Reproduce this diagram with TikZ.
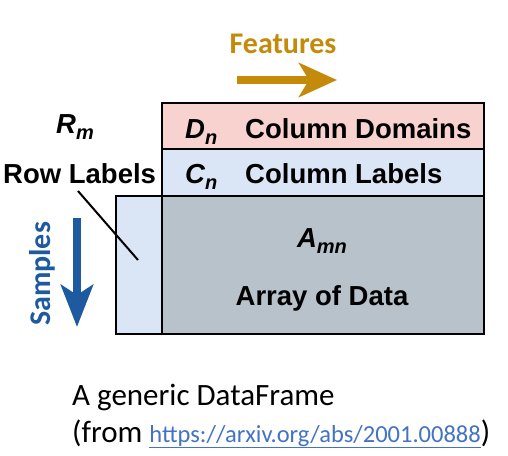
\documentclass[tikz,border=0pt]{standalone}
\usepackage{fontspec}
\setmainfont{Carlito}
\newfontfamily\hv{Liberation Sans}
\newfontfamily\calib{Carlito}
\usetikzlibrary{arrows.meta}
\definecolor{featc}{HTML}{C48A0A}
\definecolor{sampc}{HTML}{1E5AA0}
\definecolor{domc}{HTML}{F8D2CE}
\definecolor{labc}{HTML}{DAE5F6}
\definecolor{datac}{HTML}{B7C2CB}
\definecolor{urlc}{HTML}{4472C4}
\newcommand{\symsub}[2]{{\hv\bfseries\itshape #1\raisebox{-0.22em}{\fontsize{20}{20}\selectfont #2}}}
\tikzset{
  cell/.style={draw=black, line width=2pt},
  hvtext/.style={font=\hv\bfseries\fontsize{27.5}{30}\selectfont, inner sep=0pt},
  caltext/.style={font=\calib\fontsize{31}{34}\selectfont, inner sep=0pt},
}
\begin{document}
\begin{tikzpicture}[x=1pt,y=-1pt]
\useasboundingbox[fill=white] (0,0) rectangle (508,455);
% Features
\node[font=\calib\bfseries\fontsize{30}{32}\selectfont, text=featc, inner sep=0pt] (feat) at (283,44) {Features};
\coordinate (fa1) at (237,80);
\coordinate (fa2) at (337,80);
\draw[featc, line width=8pt, -{Stealth[length=38pt,width=34pt,inset=10pt]}] (fa1) -- (fa2);
% boxes
\draw[cell, fill=domc] (162,103) rectangle (484,149);
\draw[cell, fill=labc] (162,149) rectangle (484,196);
\draw[cell, fill=labc] (116,196) rectangle (162,334);
\draw[cell, fill=datac] (162,196) rectangle (484,334);
% texts
\node[hvtext, anchor=base west] (dn) at (185,138) {\symsub{D}{n}};
\node[hvtext, anchor=base west] (cd) at (245,138) {Column Domains};
\node[hvtext, anchor=base west] (cn) at (185,183) {\symsub{C}{n}};
\node[hvtext, anchor=base west] (cl) at (245,183) {Column Labels};
\node[hvtext, anchor=base west] (rm) at (56,133) {\symsub{R}{m}};
\node[hvtext, anchor=base west] (rl) at (3,183) {Row Labels};
\node[hvtext, anchor=base] (amn) at (322,247) {\symsub{A}{mn}};
\node[hvtext, anchor=base] (aod) at (322,305) {Array of Data};
% pointer line
\coordinate (lp1) at (78,191);
\coordinate (lp2) at (138,260);
\draw[line width=2pt] (lp1) -- (lp2);
% Samples
\node[font=\calib\bfseries\fontsize{30}{32}\selectfont, text=sampc, inner sep=0pt, rotate=90] (samp) at (42,274) {Samples};
\coordinate (sa1) at (77,218);
\coordinate (sa2) at (77,327);
\draw[sampc, line width=8pt, -{Stealth[length=42pt,width=32pt,inset=10pt]}] (sa1) -- (sa2);
% caption
\node[caltext, anchor=base west] (cap1) at (72,405) {A generic DataFrame};
\node[caltext, anchor=base west] (cap2) at (72,442) {(from {\fontsize{24.5}{26}\selectfont\color{urlc}\underline{https://arxiv.org/abs/2001.00888}})};
\end{tikzpicture}
\end{document}
